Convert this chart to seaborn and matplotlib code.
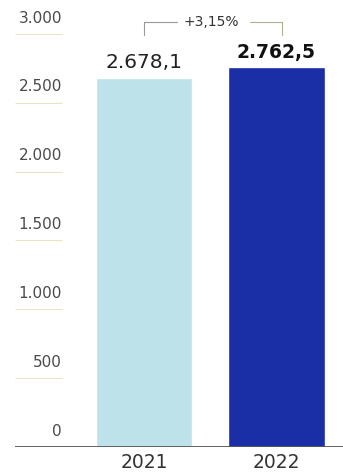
import pandas as pd
import matplotlib.pyplot as plt
import seaborn as sns

# ---------------------------
# Data
# ---------------------------
years = ["2021", "2022"]
values = [2678.1, 2762.5]
value_labels = ["2.678,1", "2.762,5"]
change_label = "+3,15%"
tick_values = [0, 500, 1000, 1500, 2000, 2500, 3000]
tick_labels = ["0", "500", "1.000", "1.500", "2.000", "2.500", "3.000"]
bar_colors = ["#bde2ea", "#1a2ea6"]

df = pd.DataFrame({"year": years, "value": values})

# ---------------------------
# Figure
# ---------------------------
sns.set_style("white")
plt.rcParams["font.family"] = ["DejaVu Sans"]

fig = plt.figure(figsize=(3.43, 4.75), dpi=100)
ax = fig.add_axes([0, 1 - 447 / 475, 1, 447 / 475])

sns.barplot(data=df, x="year", y="value", hue="year", palette=bar_colors,
            width=0.725, legend=False, ax=ax, saturation=1)

px = 132.5          # pixels per x unit
xmin = -144 / px
ax.set_xlim(xmin, xmin + 343 / px)
ax.set_ylim(0, 447 / 0.1377)

for s in ax.spines.values():
    s.set_visible(False)
ax.set_yticks([])
ax.set_xlabel("")
ax.set_ylabel("")
ax.tick_params(axis="x", length=0, pad=4, labelsize=13.5, labelcolor="#333333")

# short tick lines with labels above them
x_l, x_r = xmin + 15 / px, xmin + 62 / px
for v, lab in zip(tick_values, tick_labels):
    if v > 0:
        ax.hlines(v, x_l, x_r, color="#e8e4c4", lw=0.8)
    ax.text(x_r, v + 115, lab, ha="right", va="center", fontsize=11,
            color="#4a4a4a")

# baseline
ax.hlines(0, xmin + 15 / px, xmin + 343 / px, color="#555555", lw=1.3)

# value labels
ax.text(0, values[0] + 115, value_labels[0], ha="center", va="center",
        fontsize=14.5, color="#222222")
ax.text(1, values[1] + 100, value_labels[1], ha="center", va="center",
        fontsize=13.5, fontweight="bold", color="#111111")

# change bracket
y_top, y_bot = 3090, 2990
bl, br = 0.0, 1.04
ax.plot([bl, bl, 0.25], [y_bot, y_top, y_top], color="#999999", lw=0.8)
ax.plot([0.80, br, br], [y_top, y_top, y_bot], color="#b0ad90", lw=0.8)
ax.text(0.51, y_top, change_label, ha="center", va="center", fontsize=10,
        color="#333333")

fig.savefig("out.png", dpi=100)
